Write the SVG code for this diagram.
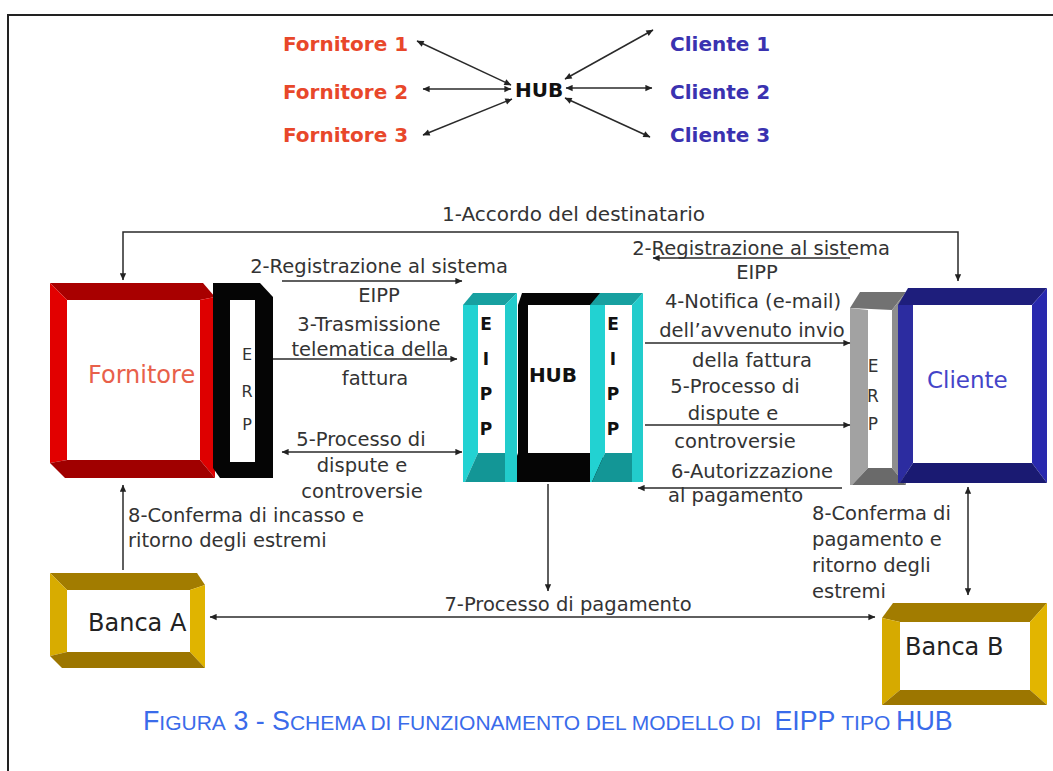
<svg xmlns="http://www.w3.org/2000/svg" width="1053" height="771" viewBox="0 0 1053 771">
  <defs>
    <style>
      .lbl { font-family: "DejaVu Sans", Verdana, sans-serif; font-size: 19.5px; fill: #333; }
      .mid { text-anchor: middle; }
      .head { font-family: "DejaVu Sans", Verdana, sans-serif; font-weight: bold; font-size: 20px; }
      .forn { fill: #e8472a; }
      .cli { fill: #3a32b0; }
      .eipp { font-family: "DejaVu Sans", Verdana, sans-serif; font-weight: bold; font-size: 17px; fill: #111; text-anchor: middle; }
      .erp { font-family: "DejaVu Sans", Verdana, sans-serif; font-size: 16px; fill: #333; text-anchor: middle; }
      .conn { stroke: #2a2a2a; stroke-width: 1.5; fill: none; }
      .one { marker-end: url(#ah); }
      .two { marker-start: url(#ah); marker-end: url(#ah); }
      .cap { font-family: "Liberation Sans", Arial, sans-serif; fill: #3a6bea; }
      .big { font-size: 26.8px; }
      .sml { font-size: 21px; }
    </style>
    <marker id="ah" viewBox="0 0 10 10" refX="9.5" refY="5" markerWidth="8" markerHeight="7" markerUnits="userSpaceOnUse" orient="auto-start-reverse">
      <path d="M0,0.5 L10,5 L0,9.5 z" fill="#222"/>
    </marker>
  </defs>

  <rect width="1053" height="771" fill="#fff"/>
  <!-- outer frame (left and top edges) -->
  <path d="M8,771 V15 H1053" fill="none" stroke="#222" stroke-width="2"/>

  <!-- hub overview -->
  <g id="overview">
    <text class="head forn" x="283" y="51">Fornitore 1</text>
    <text class="head forn" x="283" y="99">Fornitore 2</text>
    <text class="head forn" x="283" y="142">Fornitore 3</text>
    <text class="head" x="515" y="97" fill="#111">HUB</text>
    <text class="head cli" x="670" y="51">Cliente 1</text>
    <text class="head cli" x="670" y="99">Cliente 2</text>
    <text class="head cli" x="670" y="142">Cliente 3</text>
  </g>

  <!-- Fornitore -->
  <g id="fornitore">
    <polygon points="50,283 203,283 215,297 200,300 67,300" fill="#a80000"/>
    <polygon points="50,283 67,300 67,460 50,463" fill="#e20000"/>
    <polygon points="200,300 215,297 215,478 200,460" fill="#de0000"/>
    <polygon points="50,463 67,460 200,460 215,478 65,478" fill="#a00000"/>
    <rect x="67" y="300" width="133" height="160" fill="#fff"/>
    <text class="lbl" x="88" y="383" style="font-size:24px;fill:#e8604a">Fornitore</text>
  </g>

  <!-- ERP del fornitore -->
  <g id="erp-fornitore">
    <polygon points="213,283 260,283 273,297 273,478 220,478 213,468" fill="#050505"/>
    <rect x="230" y="300" width="25" height="162" fill="#fff"/>
    <text class="erp" x="247" y="360">E</text>
    <text class="erp" x="247" y="397">R</text>
    <text class="erp" x="247" y="430">P</text>
  </g>

  <!-- HUB -->
  <g id="hub">
    <polygon points="522,293 603,293 603,482 508,482 518,453 518,305" fill="#050505"/>
    <rect x="528" y="305" width="62" height="148" fill="#fff"/>
    <text x="553" y="382" text-anchor="middle" style="font-family:'DejaVu Sans',Verdana,sans-serif;font-weight:bold;font-size:20px;fill:#111">HUB</text>
  </g>

  <!-- EIPP lato fornitore -->
  <g id="eipp-sx">
    <polygon points="473,293 517,293 505,305 463,305" fill="#17a0a0"/>
    <polygon points="463,305 478,305 478,453 465,482 463,482" fill="#22d2d2"/>
    <polygon points="505,305 517,293 517,482 505,482" fill="#22cccc"/>
    <polygon points="478,453 505,453 505,482 465,482" fill="#139696"/>
    <rect x="478" y="305" width="27" height="148" fill="#fff"/>
    <text class="eipp" x="486" y="330">E</text>
    <text class="eipp" x="486" y="365">I</text>
    <text class="eipp" x="486" y="400">P</text>
    <text class="eipp" x="486" y="435">P</text>
  </g>

  <!-- EIPP lato cliente -->
  <g id="eipp-dx">
    <polygon points="600,293 643,293 632,305 590,305" fill="#17a0a0"/>
    <polygon points="590,305 605,305 605,453 592,482 590,482" fill="#22d2d2"/>
    <polygon points="632,305 643,293 643,482 632,482" fill="#22cccc"/>
    <polygon points="605,453 632,453 632,482 592,482" fill="#139696"/>
    <rect x="605" y="305" width="27" height="148" fill="#fff"/>
    <text class="eipp" x="613" y="330">E</text>
    <text class="eipp" x="613" y="365">I</text>
    <text class="eipp" x="613" y="400">P</text>
    <text class="eipp" x="613" y="435">P</text>
  </g>

  <!-- ERP del cliente -->
  <g id="erp-cliente">
    <polygon points="860,292 906,292 892,310 850,308" fill="#727272"/>
    <polygon points="850,308 868,310 868,468 852,485 850,485" fill="#a2a2a2"/>
    <polygon points="892,310 906,292 906,485 892,468" fill="#8e8e8e"/>
    <polygon points="868,468 892,468 906,485 852,485" fill="#6a6a6a"/>
    <rect x="868" y="310" width="24" height="158" fill="#fff"/>
    <text class="erp" x="873" y="372" style="font-size:17px">E</text>
    <text class="erp" x="873" y="402" style="font-size:17px">R</text>
    <text class="erp" x="873" y="430" style="font-size:17px">P</text>
  </g>

  <!-- Cliente -->
  <g id="cliente">
    <polygon points="908,288 1047,288 1032,305 898,305" fill="#1e1e7c"/>
    <polygon points="898,305 913,305 913,463 900,483 898,483" fill="#2c2ca0"/>
    <polygon points="1032,305 1047,288 1047,483 1032,463" fill="#2828ae"/>
    <polygon points="913,463 1032,463 1047,483 900,483" fill="#1a1a72"/>
    <rect x="913" y="305" width="119" height="158" fill="#fff"/>
    <text class="lbl" x="927" y="388" style="font-size:23px;fill:#4444c8">Cliente</text>
  </g>

  <!-- Banca A -->
  <g id="banca-a">
    <polygon points="50,573 197,573 205,585 190,590 67,590" fill="#a27c00"/>
    <polygon points="50,573 67,590 67,652 50,656" fill="#d8ac00"/>
    <polygon points="190,590 205,585 205,668 190,652" fill="#e0b400"/>
    <polygon points="50,656 67,652 190,652 205,668 62,668" fill="#9c7600"/>
    <rect x="67" y="590" width="123" height="62" fill="#fff"/>
    <text class="lbl" x="88" y="631" style="font-size:24px;fill:#222">Banca A</text>
  </g>

  <!-- Banca B -->
  <g id="banca-b">
    <polygon points="893,603 1047,603 1030,622 900,622 882,618" fill="#a27c00"/>
    <polygon points="882,618 900,622 900,690 882,705" fill="#d6aa00"/>
    <polygon points="1030,622 1047,603 1047,705 1030,690" fill="#e2b500"/>
    <polygon points="882,705 900,690 1030,690 1047,705" fill="#9c7600"/>
    <rect x="900" y="622" width="130" height="68" fill="#fff"/>
    <text class="lbl" x="905" y="655" style="font-size:24px;fill:#222">Banca B</text>
  </g>

  <!-- connectors -->
  <g id="connectors">
    <line class="conn two" x1="417" y1="41" x2="511" y2="85"/>
    <line class="conn two" x1="423" y1="89" x2="511" y2="89"/>
    <line class="conn two" x1="423" y1="135" x2="512" y2="99"/>
    <line class="conn two" x1="565" y1="79" x2="653" y2="30"/>
    <line class="conn two" x1="566" y1="88" x2="652" y2="88"/>
    <line class="conn two" x1="565" y1="98" x2="650" y2="137"/>

    <path class="conn two" d="M123,280 V232 H958 V281"/>
    <line class="conn one" x1="282" y1="281" x2="462" y2="281"/>
    <line class="conn one" x1="273" y1="359" x2="457" y2="359"/>
    <line class="conn two" x1="282" y1="452" x2="462" y2="452"/>
    <line class="conn one" x1="850" y1="258" x2="653" y2="258"/>
    <line class="conn one" x1="645" y1="343" x2="850" y2="343"/>
    <line class="conn one" x1="645" y1="425" x2="850" y2="425"/>
    <line class="conn one" x1="842" y1="488" x2="638" y2="488"/>
    <line class="conn one" x1="548" y1="484" x2="548" y2="591"/>
    <line class="conn two" x1="210" y1="617" x2="875" y2="617"/>
    <line class="conn one" x1="123" y1="570" x2="123" y2="485"/>
    <line class="conn two" x1="968" y1="487" x2="968" y2="595"/>

    <text class="lbl" x="442" y="221" style="font-size:20px">1-Accordo del destinatario</text>

    <text class="lbl mid" x="379" y="273">2-Registrazione al sistema</text>
    <text class="lbl mid" x="379" y="302">EIPP</text>
    <text class="lbl mid" x="369" y="331">3-Trasmissione</text>
    <text class="lbl mid" x="370" y="356">telematica della</text>
    <text class="lbl mid" x="375" y="385">fattura</text>
    <text class="lbl mid" x="361" y="446">5-Processo di</text>
    <text class="lbl mid" x="362" y="472">dispute e</text>
    <text class="lbl mid" x="362" y="498">controversie</text>

    <text class="lbl" x="128" y="522">8-Conferma di incasso e</text>
    <text class="lbl" x="128" y="547">ritorno degli estremi</text>

    <text class="lbl mid" x="761" y="255">2-Registrazione al sistema</text>
    <text class="lbl mid" x="757" y="279">EIPP</text>
    <text class="lbl mid" x="753" y="308">4-Notifica (e-mail)</text>
    <text class="lbl mid" x="752" y="337">dell’avvenuto invio</text>
    <text class="lbl mid" x="752" y="367">della fattura</text>
    <text class="lbl mid" x="735" y="393">5-Processo di</text>
    <text class="lbl mid" x="733" y="420">dispute e</text>
    <text class="lbl mid" x="735" y="448">controversie</text>
    <text class="lbl mid" x="752" y="478">6-Autorizzazione</text>
    <text class="lbl" x="668" y="502">al pagamento</text>

    <text class="lbl" x="812" y="520">8-Conferma di</text>
    <text class="lbl" x="812" y="546">pagamento e</text>
    <text class="lbl" x="812" y="572">ritorno degli</text>
    <text class="lbl" x="812" y="598">estremi</text>

    <text class="lbl mid" x="568" y="611">7-Processo di pagamento</text>
  </g>

  <!-- caption, set in small caps -->
  <g id="caption" class="cap">
    <text class="big" x="143" y="730">F</text>
    <text class="sml" x="159.3" y="730">IGURA</text>
    <text class="big" x="233.4" y="730">3 - S</text>
    <text class="sml" x="289.9" y="730">CHEMA DI FUNZIONAMENTO DEL MODELLO DI</text>
    <text class="big" x="774.4" y="730">EIPP</text>
    <text class="sml" x="841.3" y="730">TIPO</text>
    <text class="big" x="896.1" y="730">HUB</text>
  </g>
</svg>
